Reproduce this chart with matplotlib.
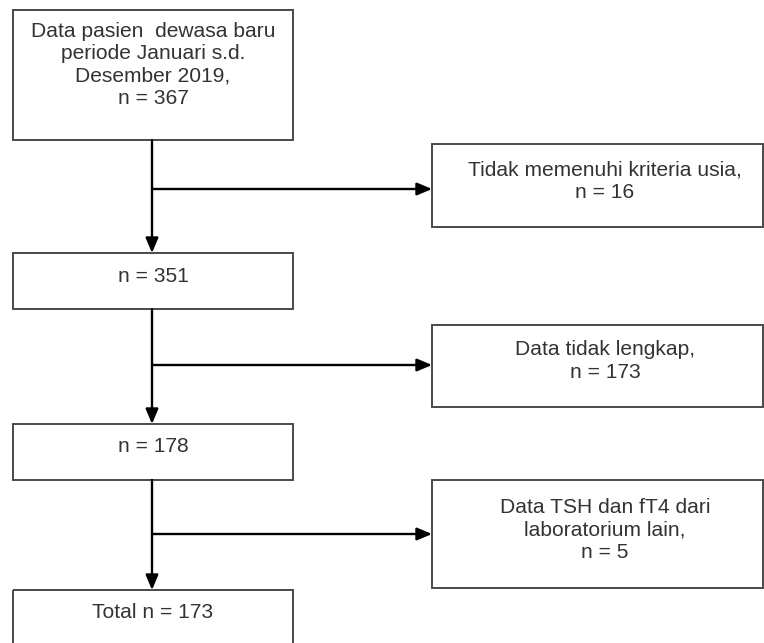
import matplotlib
matplotlib.use("Agg")
import matplotlib.pyplot as plt
from matplotlib.patches import Rectangle

# Flowchart content
main_labels = [
    "Data pasien  dewasa baru\nperiode Januari s.d.\nDesember 2019,\nn = 367",
    "n = 351",
    "n = 178",
    "Total n = 173",
]
excluded_labels = [
    "Tidak memenuhi kriteria usia,\nn = 16",
    "Data tidak lengkap,\nn = 173",
    "Data TSH dan fT4 dari\nlaboratorium lain,\nn = 5",
]

# Layout (pixel coordinates)
W, H = 764, 643
main_boxes = [(13, 10, 293, 140), (13, 253, 293, 309), (13, 424, 293, 480), (13, 590, 293, 700)]
main_text_y = [65, 276, 447, 613]
excl_boxes = [(432, 144, 763, 227), (432, 325, 763, 407), (432, 480, 763, 588)]
excl_text_y = [181, 361, 530]
branch_y = [189, 365, 534]
stem_x = 152
excl_text_x = 605

fig = plt.figure(figsize=(W / 100, H / 100), dpi=100)
ax = fig.add_axes([0, 0, 1, 1])
ax.set_xlim(0, W)
ax.set_ylim(H, 0)
ax.axis("off")

box_color = "#4a4a4a"
text_color = "#333333"
font = dict(family=["Liberation Sans", "DejaVu Sans"], fontsize=15.1, color=text_color,
            ha="center", va="center", linespacing=1.22)

for (x0, y0, x1, y1), lab, ty in zip(main_boxes, main_labels, main_text_y):
    ax.add_patch(Rectangle((x0, y0), x1 - x0, y1 - y0, fill=False, ec=box_color, lw=1.4))
    ax.text((x0 + x1) / 2, ty, lab, **font)

for (x0, y0, x1, y1), lab, ty in zip(excl_boxes, excluded_labels, excl_text_y):
    ax.add_patch(Rectangle((x0, y0), x1 - x0, y1 - y0, fill=False, ec=box_color, lw=1.4))
    ax.text(excl_text_x, ty, lab, **font)

arrow_kw = dict(arrowstyle="-|>,head_length=0.9,head_width=0.38", color="black", lw=1.7,
                shrinkA=0, shrinkB=0)
for i in range(3):
    top = main_boxes[i][3]
    bottom = main_boxes[i + 1][1]
    ax.annotate("", xy=(stem_x, bottom), xytext=(stem_x, top), arrowprops=arrow_kw)
    ax.annotate("", xy=(excl_boxes[i][0], branch_y[i]), xytext=(stem_x, branch_y[i]),
                arrowprops=arrow_kw)

fig.savefig("out.png", dpi=100, facecolor="white")
